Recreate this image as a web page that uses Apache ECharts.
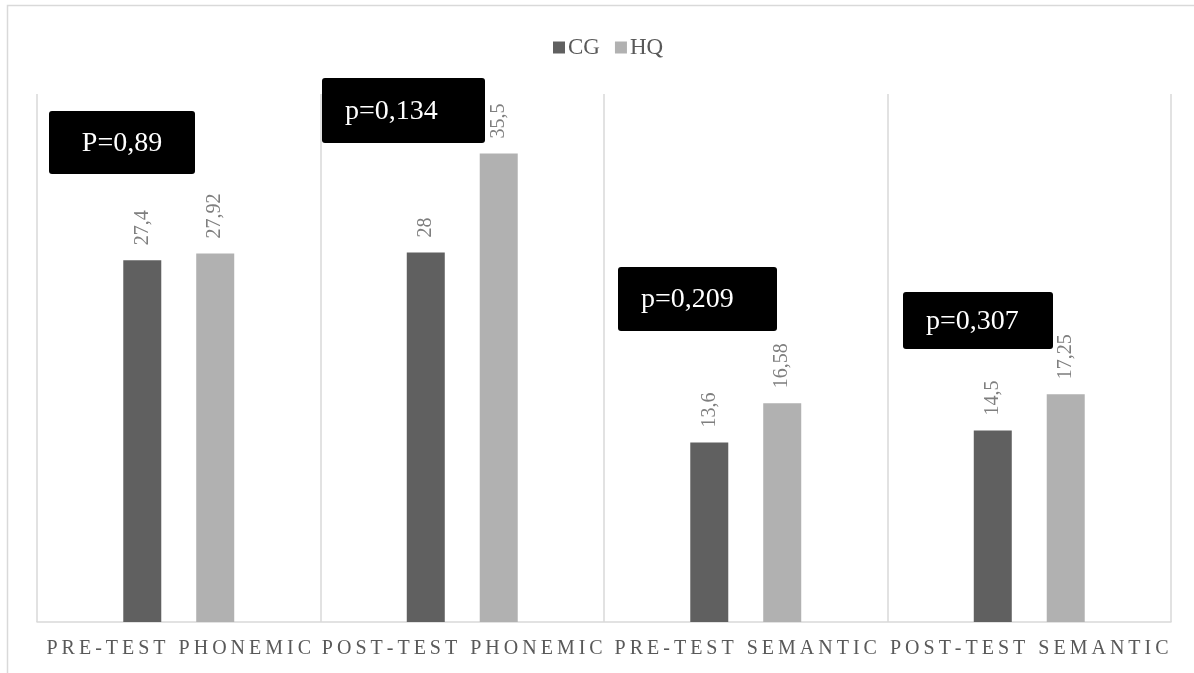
<!DOCTYPE html>
<html>
<head>
<meta charset="utf-8">
<script src="https://cdn.jsdelivr.net/npm/echarts@6/dist/echarts.min.js"></script>
<style>
  html, body { margin: 0; padding: 0; background: #fff; }
  #chart { width: 1194px; height: 673px; }
</style>
</head>
<body>
<div id="chart"></div>
<script>
// Mean scores per test phase, control group (CG) vs. HQ group
const categories = ['PRE-TEST PHONEMIC', 'POST-TEST PHONEMIC', 'PRE-TEST SEMANTIC', 'POST-TEST SEMANTIC'];
const cgValues = [27.4, 28, 13.6, 14.5];
const hqValues = [27.92, 35.5, 16.58, 17.25];
const pValues = ['P=0,89', 'p=0,134', 'p=0,209', 'p=0,307'];

// Placement of the black p-value boxes: [left, top, width, height, textLeft]
const pBoxLayout = [
  [49, 111, 146, 63, null],
  [322, 78, 163, 65, 345],
  [618, 267, 159, 64, 641],
  [903, 292, 150, 57, 926]
];

const FONT = '"Liberation Serif", "DejaVu Serif", serif';
const fmt = v => String(v).replace('.', ',');
// wide tracking of the category captions
const tracked = s => s.split('').join('\u2009');

const chart = echarts.init(document.getElementById('chart'), null, { renderer: 'canvas' });

const valueLabel = {
  show: true,
  position: 'top',
  rotate: 90,
  align: 'left',
  verticalAlign: 'middle',
  distance: 15,
  color: '#7f7f7f',
  fontFamily: FONT,
  fontSize: 20,
  formatter: p => fmt(p.value)
};

const pBoxes = pValues.map((txt, i) => {
  const [x, y, w, h, tx] = pBoxLayout[i];
  return {
    type: 'group',
    children: [
      { type: 'rect', shape: { x: x, y: y, width: w, height: h, r: 3 }, style: { fill: '#000' } },
      {
        type: 'text',
        x: tx === null ? x + w / 2 : tx,
        y: y + h / 2 + 1,
        style: {
          text: txt,
          fill: '#fff',
          font: '28px ' + FONT,
          textAlign: tx === null ? 'center' : 'left',
          textVerticalAlign: 'middle'
        }
      }
    ]
  };
});

chart.setOption({
  animation: false,
  backgroundColor: '#fff',
  textStyle: { fontFamily: FONT },
  legend: {
    data: ['CG', 'HQ'],
    left: 548,
    top: 31,
    itemWidth: 12,
    itemHeight: 12,
    itemGap: 15,
    icon: 'rect',
    textStyle: { color: '#595959', fontSize: 23, fontFamily: FONT, padding: [0, 0, 0, -2] }
  },
  grid: { left: 37, right: 23, top: 94, bottom: 51, containLabel: false },
  xAxis: {
    type: 'category',
    data: categories,
    boundaryGap: true,
    axisLine: { show: true, lineStyle: { color: '#d9d9d9', width: 1.5 } },
    axisTick: { show: false },
    splitLine: { show: true, interval: 0, lineStyle: { color: '#d9d9d9', width: 1.5 } },
    axisLabel: {
      interval: 0,
      margin: 17,
      color: '#595959',
      fontSize: 20,
      fontFamily: FONT,
      formatter: v => tracked(v)
    }
  },
  yAxis: {
    type: 'value',
    min: 0,
    max: 40,
    interval: 10,
    show: false,
    splitLine: { show: false }
  },
  series: [
    {
      name: 'CG',
      type: 'bar',
      data: cgValues,
      barWidth: 38,
      barGap: '92%',
      itemStyle: { color: '#606060' },
      label: valueLabel
    },
    {
      name: 'HQ',
      type: 'bar',
      data: hqValues,
      barWidth: 38,
      itemStyle: { color: '#b1b1b1' },
      label: valueLabel
    }
  ],
  graphic: [
    // outer frame of the chart area
    {
      type: 'rect',
      silent: true,
      shape: { x: 7.5, y: 5.5, width: 1300, height: 800 },
      style: { fill: 'none', stroke: '#d9d9d9', lineWidth: 1.5 }
    }
  ].concat(pBoxes)
});
</script>
</body>
</html>
